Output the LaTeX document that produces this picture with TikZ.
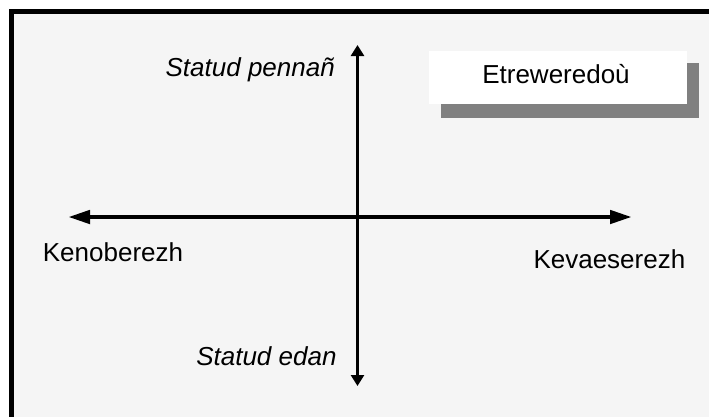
\documentclass[tikz,border=0pt]{standalone}
\usepackage{fontspec}
\setmainfont{Liberation Sans}
\usetikzlibrary{arrows.meta}
\definecolor{bggray}{HTML}{F5F5F5}
\definecolor{shadowgray}{HTML}{808080}
\begin{document}
\begin{tikzpicture}[x=1bp,y=-1bp,
  lbl/.style={inner sep=0pt,font=\fontsize{26bp}{30bp}\selectfont},
  ilbl/.style={lbl,font=\fontsize{26bp}{30bp}\selectfont\itshape},
  haxis/.style={line width=4.5bp,-{Triangle[length=22bp,width=13bp]}},
  vaxis/.style={line width=2.5bp,-{Triangle[length=11bp,width=13bp]}},
  boxstyle/.style={draw=none,fill=white,inner sep=0pt,minimum width=258bp,minimum height=53bp},
  shadowstyle/.style={draw=none,fill=shadowgray,inner sep=0pt,minimum width=258bp,minimum height=55bp}]
\useasboundingbox (0,0) rectangle (709,416);
\fill[white] (0,0) rectangle (709,416);
\fill[bggray] (14,14) rectangle (720,430);
\draw[line width=5bp] (11.5,430) -- (11.5,11.5) -- (720,11.5);
% legend box with shadow
\node[shadowstyle] (shadow) at (570,90.5) {};
\node[boxstyle] (box) at (558,77.5) {};
\node[lbl,anchor=base] (boxtext) at (556,83.3) {Etreweredoù};
% axes
\coordinate (C) at (357.5,217);
\coordinate (L) at (68,217);
\coordinate (R) at (632,217);
\coordinate (T) at (357.5,45);
\coordinate (B) at (357.5,386);
\draw[haxis] (C) -- (L);
\draw[haxis] (C) -- (R);
\draw[vaxis] (C) -- (T);
\draw[vaxis] (C) -- (B);
% labels
\node[ilbl,anchor=base east] (top) at (335,76.7) {Statud pennañ};
\node[ilbl,anchor=base east] (bottom) at (336.7,365) {Statud edan};
\node[lbl,anchor=base west] (left) at (42.7,261.7) {Kenoberezh};
\node[lbl,anchor=base west] (right) at (533.3,268.3) {Kevaeserezh};
\end{tikzpicture}
\end{document}
